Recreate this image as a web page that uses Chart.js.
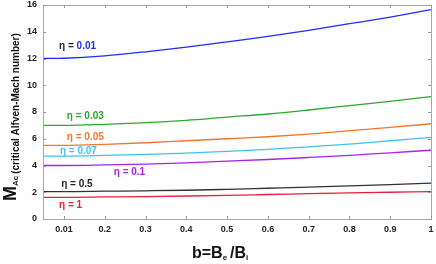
<!DOCTYPE html>
<html>
<head>
<meta charset="utf-8">
<script src="https://cdn.jsdelivr.net/npm/chart.js@4/dist/chart.umd.min.js"></script>
<style>
html,body{margin:0;padding:0;background:#fff}
#wrap{width:436px;height:264px;position:relative}
</style>
</head>
<body>
<div id="wrap"><canvas id="chart"></canvas></div>
<script>
// b = Be/Bi
var bVals = [0.05, 0.1, 0.2, 0.3, 0.4, 0.5, 0.6, 0.7, 0.8, 0.9, 1.0];
var eta001 = [12.0, 12.02, 12.2, 12.5, 12.85, 13.25, 13.65, 14.1, 14.6, 15.1, 15.65];
var eta003 = [7.0, 7.0, 7.08, 7.2, 7.38, 7.62, 7.85, 8.15, 8.48, 8.8, 9.15];
var eta005 = [5.5, 5.5, 5.58, 5.7, 5.85, 6.0, 6.15, 6.35, 6.6, 6.85, 7.12];
var eta007 = [4.7, 4.7, 4.75, 4.83, 4.93, 5.05, 5.2, 5.4, 5.6, 5.85, 6.1];
var eta01 = [4.0, 4.0, 4.04, 4.1, 4.2, 4.32, 4.45, 4.6, 4.76, 4.95, 5.14];
var eta05 = [2.05, 2.05, 2.08, 2.11, 2.15, 2.22, 2.3, 2.38, 2.47, 2.57, 2.68];
var eta1 = [1.62, 1.62, 1.65, 1.68, 1.72, 1.77, 1.83, 1.89, 1.95, 2.0, 2.05];

var xTickVals = [0.1, 0.2, 0.3, 0.4, 0.5, 0.6, 0.7, 0.8, 0.9, 1.0];
var xTickLabels = ['0.01', '0.2', '0.3', '0.4', '0.5', '0.6', '0.7', '0.8', '0.9', '1'];
var yTickVals = [0, 2, 4, 6, 8, 10, 12, 14, 16];

// curve labels: [text prefix, value text, prefix colour, value colour, b, M]
var curveLabels = [
  ['\u03B7 = ', '0.01', '#222', '#1f2bff', 0.088, 12.93],
  ['\u03B7 = ', '0.03', '#2ca82c', '#2ca82c', 0.107, 7.67],
  ['\u03B7 = ', '0.05', '#f0772e', '#f0772e', 0.107, 6.09],
  ['\u03B7 = ', '0.07', '#3cc4f0', '#3cc4f0', 0.09, 5.04],
  ['\u03B7 = ', '0.1', '#a526e8', '#a526e8', 0.222, 3.53],
  ['\u03B7 = ', '0.5', '#222', '#222', 0.093, 2.63],
  ['\u03B7 = ', '1', '#e8203a', '#e8203a', 0.088, 1.05]
];

function pts(arr){
  var out = [];
  for(var i=0;i<bVals.length;i++){ out.push({x:bVals[i], y:arr[i]}); }
  return out;
}

function line(data, color){
  return {data: pts(data), borderColor: color, borderWidth: 1.3, pointRadius: 0,
          fill: false, cubicInterpolationMode: 'monotone'};
}

var FONT = '"Liberation Sans", Arial, sans-serif';

var decor = {
  id: 'decor',
  afterDraw: function(chart){
    var ctx = chart.ctx, a = chart.chartArea;
    var xs = chart.scales.x, ys = chart.scales.y;
    ctx.save();
    // frame
    ctx.strokeStyle = '#a8a8a8';
    ctx.lineWidth = 1;
    ctx.strokeRect(Math.round(a.left)+0.5, Math.round(a.top)+0.5, Math.round(a.right-a.left), Math.round(a.bottom-a.top));
    // inward ticks
    ctx.strokeStyle = '#999';
    ctx.beginPath();
    xTickVals.forEach(function(v){
      var px = Math.round(xs.getPixelForValue(v))+0.5;
      ctx.moveTo(px, a.bottom); ctx.lineTo(px, a.bottom-3);
      ctx.moveTo(px, a.top); ctx.lineTo(px, a.top+3);
    });
    yTickVals.forEach(function(v){
      var py = Math.round(ys.getPixelForValue(v))+0.5;
      ctx.moveTo(a.left, py); ctx.lineTo(a.left+3, py);
      ctx.moveTo(a.right, py); ctx.lineTo(a.right-3, py);
    });
    ctx.stroke();

    // tick labels
    ctx.fillStyle = '#222';
    ctx.font = 'bold 9px ' + FONT;
    ctx.textBaseline = 'middle';
    ctx.textAlign = 'center';
    xTickVals.forEach(function(v, i){
      ctx.fillText(xTickLabels[i], xs.getPixelForValue(v), a.bottom + 11);
    });
    ctx.textAlign = 'right';
    yTickVals.forEach(function(v){
      ctx.fillText(String(v), a.left - 6, ys.getPixelForValue(v));
    });

    // curve labels
    ctx.textAlign = 'left';
    curveLabels.forEach(function(l){
      var px = xs.getPixelForValue(l[4]), py = ys.getPixelForValue(l[5]);
      ctx.font = 'bold 10px ' + FONT;
      ctx.fillStyle = l[2];
      ctx.fillText(l[0], px, py);
      var w = ctx.measureText(l[0]).width;
      ctx.fillStyle = l[3];
      ctx.fillText(l[1], px + w, py);
    });

    // x title: b=Be /Bi
    ctx.fillStyle = '#111';
    ctx.textBaseline = 'alphabetic';
    var x0 = 192, y0 = 258;
    ctx.font = 'bold 16px ' + FONT;
    ctx.fillText('b=B', x0, y0);
    x0 += ctx.measureText('b=B').width;
    ctx.font = 'bold 8px ' + FONT;
    ctx.fillText('e', x0, y0 + 2);
    x0 += ctx.measureText('e').width + 3;
    ctx.font = 'bold 16px ' + FONT;
    ctx.fillText('/B', x0, y0);
    x0 += ctx.measureText('/B').width;
    ctx.font = 'bold 8px ' + FONT;
    ctx.fillText('i', x0, y0 + 2);

    // y title, rotated
    ctx.translate(16, 201);
    ctx.rotate(-Math.PI/2);
    var t = 0;
    ctx.font = 'bold 18px ' + FONT;
    ctx.fillText('M', t, 0);
    t += ctx.measureText('M').width;
    ctx.font = 'bold 8px ' + FONT;
    ctx.fillText('Ac', t, 2);
    t += ctx.measureText('Ac').width + 2;
    ctx.font = 'bold 10px ' + FONT;
    ctx.fillText('(critical Alfven-Mach number)', t, 3);
    ctx.restore();
  }
};

var ctx = document.getElementById('chart').getContext('2d');
var chart = new Chart(ctx, {
  type: 'line',
  data: {
    datasets: [
      line(eta001, '#1f2bff'),
      line(eta003, '#2ca82c'),
      line(eta005, '#f0772e'),
      line(eta007, '#3cc4f0'),
      line(eta01, '#a526e8'),
      line(eta05, '#333333'),
      line(eta1, '#e8203a')
    ]
  },
  options: {
    responsive: true,
    maintainAspectRatio: false,
    animation: false,
    layout: {padding: {top: 5, right: 5, left: 0, bottom: 0}},
    plugins: {legend: {display: false}, tooltip: {enabled: false}},
    scales: {
      x: {
        type: 'linear', min: 0.0485, max: 1,
        grid: {display: false, drawTicks: false},
        border: {display: false},
        ticks: {display: false},
        afterFit: function(s){ s.height = 45; }
      },
      y: {
        min: 0, max: 16,
        grid: {display: false, drawTicks: false},
        border: {display: false},
        ticks: {display: false},
        afterFit: function(s){ s.width = 43; }
      }
    }
  },
  plugins: [decor]
});
</script>
</body>
</html>
